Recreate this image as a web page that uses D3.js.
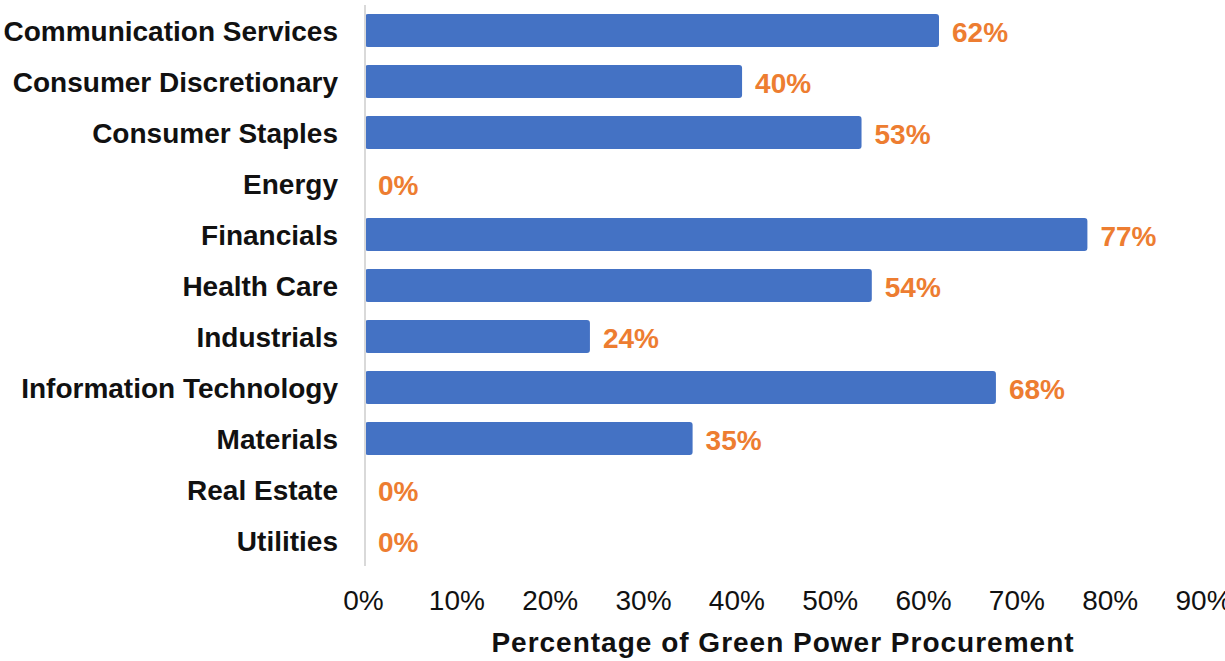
<!DOCTYPE html>
<html>
<head>
<meta charset="utf-8">
<script src="https://cdnjs.cloudflare.com/ajax/libs/d3/7.8.5/d3.min.js"></script>
<style>
  body { margin: 0; background: #fff; }
  text { font-family: "Liberation Sans", Arial, sans-serif; }
</style>
</head>
<body>
<div class="canvas"></div>
<script>
const categories = [
  'Communication Services', 'Consumer Discretionary', 'Consumer Staples', 'Energy',
  'Financials', 'Health Care', 'Industrials', 'Information Technology',
  'Materials', 'Real Estate', 'Utilities'
]
// values; labels show them rounded
const values = [61.5, 40.4, 53.2, 0, 77.4, 54.3, 24.1, 67.6, 35.1, 0, 0]
const tickValues = [0, 10, 20, 30, 40, 50, 60, 70, 80, 90]
const axisTitle = 'Percentage of Green Power Procurement'

const width = 1225
const height = 661

const svg = d3.select('.canvas')
  .append('svg')
  .attr('width', width)
  .attr('height', height)

const data = categories.map((name, i) => ({ name, value: values[i] }))

// scales
const x = d3.scaleLinear()
  .domain([0, 90])
  .range([365, 1205])

const y = d3.scaleBand()
  .domain(categories)
  .range([5, 566])
  .paddingInner(0.35)
  .paddingOuter(0.175)

// bars
svg.selectAll('rect.bar')
  .data(data.filter(d => d.value > 0))
  .enter()
  .append('rect')
  .attr('class', 'bar')
  .attr('x', x(0))
  .attr('y', d => y(d.name))
  .attr('width', d => x(d.value) - x(0))
  .attr('height', y.bandwidth())
  .attr('rx', 3)
  .attr('fill', '#4472C4')

// vertical axis line
svg.append('line')
  .attr('x1', x(0)).attr('x2', x(0))
  .attr('y1', 5).attr('y2', 566)
  .attr('stroke', '#d9d9d9')
  .attr('stroke-width', 2)

// category labels
const yAxis = d3.axisLeft(y).tickSize(0).tickPadding(0)
const yAxisGroup = svg.append('g')
  .attr('transform', 'translate(338, 0)')
  .call(yAxis)
yAxisGroup.select('.domain').remove()
yAxisGroup.selectAll('text')
  .attr('font-size', 28)
  .attr('font-weight', 'bold')
  .attr('fill', '#111')
  .attr('font-family', '"Liberation Sans", Arial, sans-serif')
  .attr('dy', '0.37em')

// value labels
svg.selectAll('text.value')
  .data(data)
  .enter()
  .append('text')
  .attr('class', 'value')
  .attr('x', d => x(d.value) + 13)
  .attr('y', d => y(d.name) + y.bandwidth() / 2)
  .attr('dy', '0.4em')
  .attr('font-size', 28)
  .attr('font-weight', 'bold')
  .attr('fill', '#ED7D31')
  .text(d => `${Math.round(d.value)}%`)

// x axis tick labels
const xAxis = d3.axisBottom(x)
  .tickValues(tickValues)
  .tickSize(0)
  .tickPadding(0)
  .tickFormat(d => `${d}%`)
const xAxisGroup = svg.append('g')
  .attr('transform', 'translate(-2, 590)')
  .call(xAxis)
xAxisGroup.select('.domain').remove()
xAxisGroup.selectAll('text')
  .attr('font-size', 28)
  .attr('fill', '#111')
  .attr('font-family', '"Liberation Sans", Arial, sans-serif')
  .attr('dy', '0.72em')

// axis title
svg.append('text')
  .attr('x', 783)
  .attr('y', 652)
  .attr('text-anchor', 'middle')
  .attr('font-size', 28)
  .attr('font-weight', 'bold')
  .attr('letter-spacing', 1)
  .attr('fill', '#111')
  .text(axisTitle)
</script>
</body>
</html>
